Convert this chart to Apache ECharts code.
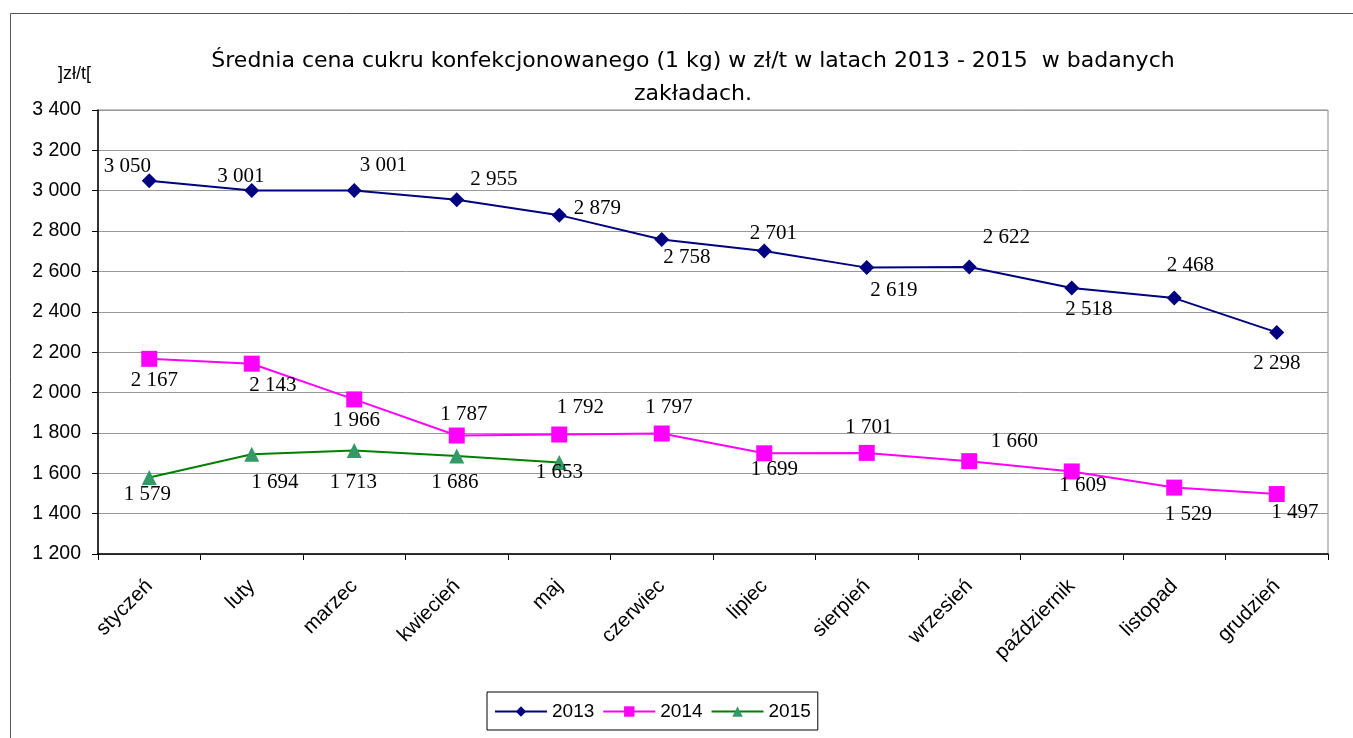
<!DOCTYPE html>
<html>
<head>
<meta charset="utf-8">
<script src="https://cdn.jsdelivr.net/npm/echarts@6/dist/echarts.min.js"></script>
<style>
html,body{margin:0;padding:0;background:#fff;}
#c{width:1353px;height:738px;}
</style>
</head>
<body>
<div id="c"></div>
<script>
const months = ['styczeń','luty','marzec','kwiecień','maj','czerwiec','lipiec','sierpień','wrzesień','październik','listopad','grudzień'];
const values2013 = [3050, 3001, 3001, 2955, 2879, 2758, 2701, 2619, 2622, 2518, 2468, 2298];
const values2014 = [2167, 2143, 1966, 1787, 1792, 1797, 1699, 1701, 1660, 1609, 1529, 1497];
const values2015 = [1579, 1694, 1713, 1686, 1653];
const seriesNames = ['2013', '2014', '2015'];

// label placement offsets (px) relative to each point
const off2013 = [[-22,-14],[-11,-14],[29,-25],[37,-20],[38,-7],[25,18],[9,-18],[27,23],[37,-30],[17,21],[16,-33],[0,31]];
const off2014 = [[5,22],[21,22],[2,21],[7,-21],[21,-27],[7,-26],[10,16],[2,-25],[45,-20],[11,14],[14,27],[18,18]];
const off2015 = [[-2,17],[23,28],[-1,32],[-2,27],[0,10]];

function fmt(v){ return String(v).replace(/\B(?=(\d{3})+(?!\d))/g, ' '); }

function withLabels(vals, offs){
  return vals.map((v,i)=>({value:v, label:{show:true, position:'inside', offset:offs[i]}}));
}

const labelStyle = {
  show:true, formatter:p=>fmt(p.value), color:'#000',
  fontFamily:'Liberation Serif', fontSize:21
};

const chart = echarts.init(document.getElementById('c'), null, {renderer:'canvas'});
chart.setOption({
  animation:false,
  backgroundColor:'#fff',
  title:{
    text:'Średnia cena cukru konfekcjonowanego (1 kg) w zł/t w latach 2013 - 2015  w badanych\nzakładach.',
    left:688, top:40, textAlign:'center',
    textStyle:{fontFamily:'DejaVu Sans', fontWeight:'normal', fontSize:22, color:'#000', lineHeight:33}
  },
  graphic:[
    {type:'rect', shape:{x:10.5,y:13.5,width:1400,height:800}, style:{fill:'none', stroke:'#555', lineWidth:1}, silent:true, z:-1},
    {type:'text', left:58, top:65, style:{text:']zł/t[', fontFamily:'Liberation Sans', fontSize:18, fill:'#000'}}
  ],
  legend:{
    data:seriesNames, left:487, top:692, 
    itemWidth:52, itemHeight:13, itemGap:8,
    borderColor:'#000', borderWidth:1, padding:[10,7,9,7],
    textStyle:{fontFamily:'Liberation Sans', fontSize:19, color:'#000'}
  },
  grid:{left:98, right:25, top:110, bottom:184, show:true, borderColor:'#888', borderWidth:1},
  xAxis:{
    type:'category', data:months, boundaryGap:true,
    axisLine:{lineStyle:{color:'#000', width:1.5}},
    axisTick:{show:true, length:6, lineStyle:{color:'#000'}},
    axisLabel:{rotate:45, fontFamily:'Liberation Sans', fontSize:20.5, color:'#000', margin:29, interval:0}
  },
  yAxis:{
    type:'value', min:1200, max:3400, interval:200,
    axisLine:{show:true, lineStyle:{color:'#000', width:1.5}},
    axisTick:{show:true, length:6, lineStyle:{color:'#000'}},
    splitLine:{lineStyle:{color:'#999', width:1}},
    axisLabel:{formatter:v=>fmt(v), fontFamily:'Liberation Sans', fontSize:19.5, color:'#000', margin:17}
  },
  series:[
    {name:'2013', type:'line', data:withLabels(values2013, off2013), symbol:'diamond', symbolSize:15,
     lineStyle:{color:'#000080', width:2}, itemStyle:{color:'#000080'}, label:labelStyle},
    {name:'2014', type:'line', data:withLabels(values2014, off2014), symbol:'rect', symbolSize:16,
     lineStyle:{color:'#FF00FF', width:2}, itemStyle:{color:'#FF00FF'}, label:labelStyle},
    {name:'2015', type:'line', data:withLabels(values2015, off2015), symbol:'triangle', symbolSize:15,
     lineStyle:{color:'#008000', width:2}, itemStyle:{color:'#339966'}, label:labelStyle}
  ]
});
</script>
</body>
</html>
